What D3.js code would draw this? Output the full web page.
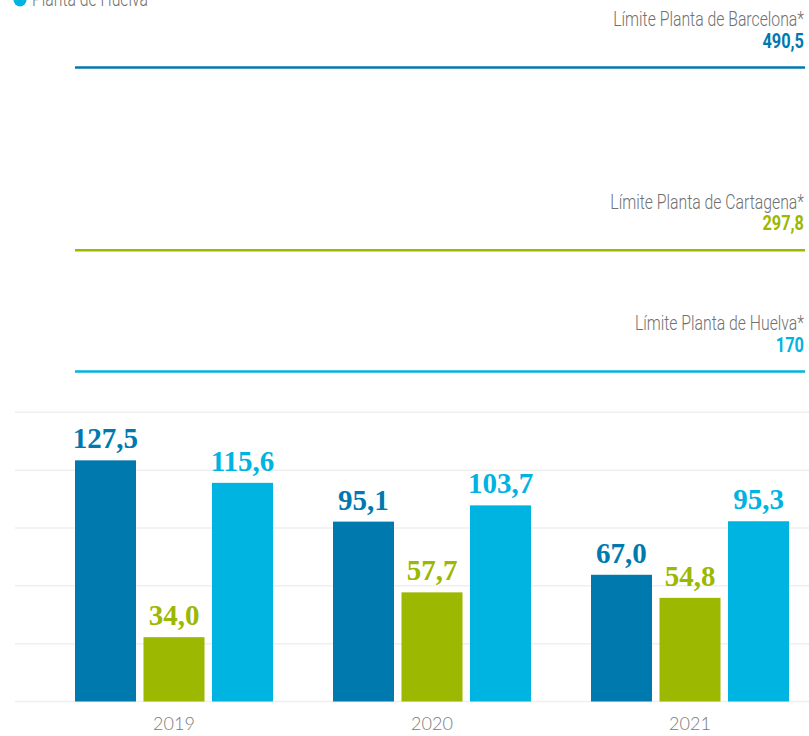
<!DOCTYPE html>
<html>
<head>
<meta charset="utf-8">
<script src="https://cdn.jsdelivr.net/npm/d3@7"></script>
<style>
  html, body { margin: 0; padding: 0; background: #fff; }
  svg { display: block; }
</style>
</head>
<body>
<svg id="chart" width="809" height="736"></svg>
<script>
// Emisiones por planta y año, con el límite autorizado de cada planta
const years = ["2019", "2020", "2021"];
const plants = ["Planta de Barcelona", "Planta de Cartagena", "Planta de Huelva"];
const barcelona = [127.5, 95.1, 67.0];
const cartagena = [34.0, 57.7, 54.8];
const huelva = [115.6, 103.7, 95.3];
const limitLabels = ["Límite Planta de Barcelona*", "Límite Planta de Cartagena*", "Límite Planta de Huelva*"];
const limitValues = [490.5, 297.8, 170];
const colors = ["#0079ae", "#9cb800", "#00b4e1"];

const series = [barcelona, cartagena, huelva];
const fmt = v => d3.format(".1f")(v).replace(".", ",");
const fmtLimit = v => (Number.isInteger(v) ? String(v) : d3.format(".1f")(v).replace(".", ","));

const svg = d3.select("#chart");
const W = 809;
const condensed = "Roboto, 'Liberation Sans', sans-serif";

// Scales
const x0 = d3.scaleBand().domain(years).range([75, 789]).paddingInner(60 / 258).paddingOuter(0);
const x1 = d3.scaleBand().domain(plants).range([0, x0.bandwidth()]).paddingInner(0.1095).paddingOuter(0);
const y = d3.scaleLinear().domain([0, 152.9]).range([701.5, 412.3]);
// Los límites se dibujan en un tramo de eje propio, por encima de las barras
const yLimit = d3.scaleLinear().domain([170, 490.5]).range([371.5, 67.5]);
const color = d3.scaleOrdinal().domain(plants).range(colors);

// Gridlines
const gridValues = d3.range(0, 6).map(i => i * 152.9 / 5);
svg.append("g").selectAll("line").data(gridValues).join("line")
  .attr("x1", 15).attr("x2", W)
  .attr("y1", d => y(d)).attr("y2", d => y(d))
  .attr("stroke", "#efefef").attr("stroke-width", 1.5);

// Bars
const barData = years.flatMap((yr, i) => plants.map((p, j) => ({ year: yr, plant: p, value: series[j][i] })));
const bars = svg.append("g");
bars.selectAll("rect").data(barData).join("rect")
  .attr("x", d => x0(d.year) + x1(d.plant))
  .attr("width", x1.bandwidth())
  .attr("y", d => y(d.value))
  .attr("height", d => y(0) - y(d.value))
  .attr("fill", d => color(d.plant));

bars.selectAll("text").data(barData).join("text")
  .attr("x", d => x0(d.year) + x1(d.plant) + x1.bandwidth() / 2)
  .attr("y", d => y(d.value) - 12)
  .attr("text-anchor", "middle")
  .attr("font-family", "'Liberation Serif', 'DejaVu Serif', serif")
  .attr("font-weight", "bold")
  .attr("font-size", 29)
  .attr("fill", d => color(d.plant))
  .text(d => fmt(d.value));

// Year axis labels
svg.append("g").selectAll("text").data(years).join("text")
  .attr("x", d => x0(d) + x0.bandwidth() / 2)
  .attr("y", 730)
  .attr("text-anchor", "middle")
  .attr("font-family", "Lato, sans-serif")
  .attr("font-weight", 300)
  .attr("font-size", 18)
  .attr("fill", "#7a7a7a")
  .text(d => d);

// Limit lines with their labels
const limits = limitValues.map((v, i) => ({ label: limitLabels[i], value: v, color: colors[i] }));
const lg = svg.append("g").selectAll("g").data(limits).join("g");
lg.append("line")
  .attr("x1", 75).attr("x2", 805)
  .attr("y1", d => yLimit(d.value)).attr("y2", d => yLimit(d.value))
  .attr("stroke", d => d.color).attr("stroke-width", 2.5);
lg.append("g")
  .attr("transform", d => `translate(804,${yLimit(d.value) - 41.5}) scale(0.77,1)`)
  .append("text")
  .attr("text-anchor", "end")
  .attr("font-family", condensed)
  .attr("font-weight", 300)
  .attr("font-size", 20.5)
  .attr("fill", "#707070")
  .text(d => d.label);
lg.append("g")
  .attr("transform", d => `translate(804,${yLimit(d.value) - 20}) scale(0.84,1)`)
  .append("text")
  .attr("text-anchor", "end")
  .attr("font-family", condensed)
  .attr("font-weight", "bold")
  .attr("font-size", 19.5)
  .attr("fill", d => d.color)
  .text(d => fmtLimit(d.value));

// Legend entry visible at the top edge
const legendItems = plants.slice(-1);
const li = svg.append("g").attr("transform", "translate(20,0)")
  .selectAll("g").data(legendItems).join("g");
li.append("circle").attr("r", 6.5).attr("fill", d => color(d));
li.append("g").attr("transform", "translate(12,6) scale(0.77,1)")
  .append("text")
  .attr("font-family", condensed)
  .attr("font-weight", 300)
  .attr("font-size", 20.5)
  .attr("fill", "#707070")
  .text(d => d);
</script>
</body>
</html>
